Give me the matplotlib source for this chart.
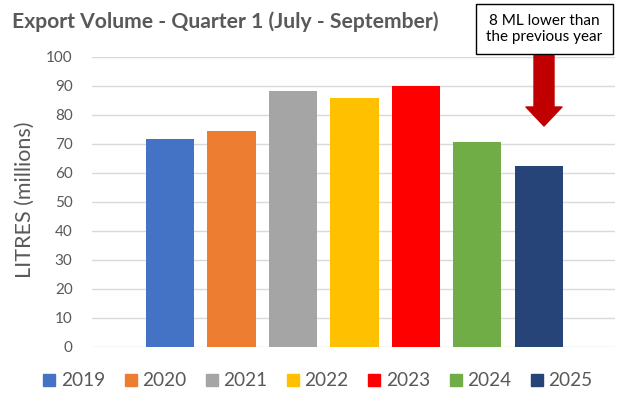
import matplotlib
matplotlib.use("Agg")
import matplotlib.pyplot as plt
from matplotlib.patches import Rectangle, FancyArrowPatch, ArrowStyle
from matplotlib.lines import Line2D

years = ["2019", "2020", "2021", "2022", "2023", "2024", "2025"]
volumes = [71.4, 74.2, 88.0, 85.7, 89.9, 70.6, 62.2]
colors = ["#4472C4", "#ED7D31", "#A5A5A5", "#FFC000", "#FF0000", "#70AD47", "#264478"]
yticks = [0, 10, 20, 30, 40, 50, 60, 70, 80, 90, 100]
title = "Export Volume - Quarter 1 (July - September)"
ylabel = "LITRES (millions)"
note = "8 ML lower than\nthe previous year"

plt.rcParams["font.family"] = ["Lato", "DejaVu Sans"]
grey = "#595959"

W, H = 625, 401
fig = plt.figure(figsize=(W / 100, H / 100), dpi=100)
ax = fig.add_axes([92 / W, 1 - 346.5 / H, (615 - 92) / W, (346.5 - 56.5) / H])

xs = list(range(len(years)))
ax.bar(xs, volumes, width=0.785, color=colors, zorder=3)
ax.set_xlim(-1.27, 7.24)
ax.set_ylim(0, 100)
ax.set_yticks(yticks)
ax.set_yticklabels([str(t) for t in yticks], fontsize=11, color=grey)
ax.set_xticks([])
ax.grid(axis="y", color="#D9D9D9", linewidth=1, zorder=0)
for s in ax.spines.values():
    s.set_visible(False)
ax.tick_params(axis="y", length=0, pad=14)
ax.set_ylabel(ylabel, fontsize=15.5, color=grey)
ax.yaxis.set_label_coords((35 - 92) / 523, 0.505)

fig.text(12 / W, 1 - 22 / H, title, fontsize=15.2, fontweight="bold", color=grey,
         ha="left", va="center")

# annotation box
bx0, bx1, by0, by1 = 476, 613, 4, 54
fig.patches.append(Rectangle((bx0 / W, 1 - by1 / H), (bx1 - bx0) / W, (by1 - by0) / H,
                             transform=fig.transFigure, facecolor="white",
                             edgecolor="black", linewidth=1, zorder=5))
fig.text((bx0 + bx1) / 2 / W, 1 - (by0 + by1) / 2 / H, note, fontsize=11,
         color="black", ha="center", va="center", linespacing=1.2, zorder=6)

# arrow
ax_x = 544 / W
arrow = FancyArrowPatch((ax_x, 1 - 54 / H), (ax_x, 1 - 126 / H),
                        transform=fig.transFigure,
                        arrowstyle=ArrowStyle.Simple(head_length=0.76, head_width=1.44, tail_width=0.8),
                        mutation_scale=18, color="#C00000", shrinkA=0, shrinkB=0, zorder=4)
fig.patches.append(arrow)

handles = [Line2D([0], [0], marker="s", linestyle="none", markersize=8.5,
                  markerfacecolor=c, markeredgecolor=c) for c in colors]
fig.legend(handles, years, loc="center", bbox_to_anchor=(317 / W, 1 - 381 / H),
           ncol=7, frameon=False, fontsize=13.7, labelcolor=grey,
           handletextpad=0.2, columnspacing=0.95, handlelength=0.8)

fig.savefig("out.png", dpi=100)
